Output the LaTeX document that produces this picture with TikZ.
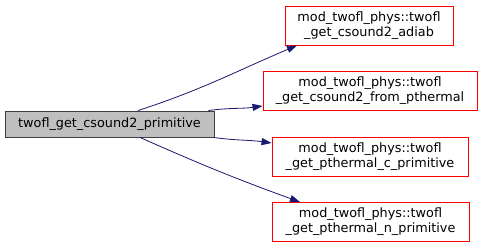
\documentclass[tikz,border=0pt]{standalone}
\usepackage{fontspec}
\setmainfont{DejaVu Sans}
\usetikzlibrary{arrows.meta}
\definecolor{CallNavy}{HTML}{191970}
\definecolor{CallRed}{HTML}{FF0000}
\definecolor{CallGrey}{HTML}{BFBFBF}
\definecolor{CallEdge}{HTML}{404040}

\begin{document}
\begin{tikzpicture}[
  x=1pt,y=-1pt,
  every node/.style={font=\fontsize{12.8}{15}\selectfont,inner sep=0pt},
  fn/.style={draw=CallRed,line width=0.9pt,align=center,minimum height=39pt},
  root/.style={draw=CallEdge,fill=CallGrey,line width=0.9pt,
    minimum width=209pt,minimum height=26pt},
  call/.style={-{Triangle[length=10pt,width=7pt]},line width=0.8pt,color=CallNavy}
]
\useasboundingbox (0,0) rectangle (483,248);

\node[root] (mainfn) at (109.5,124) {twofl\_get\_csound2\_primitive};

\node[fn,minimum width=168pt] (adiab) at (369,25.5)
  {mod\_twofl\_phys::twofl\\\_get\_csound2\_adiab};
\node[fn,minimum width=214pt] (frompth) at (370,90.5)
  {mod\_twofl\_phys::twofl\\\_get\_csound2\_from\_pthermal};
\node[fn,minimum width=196pt] (cprim) at (370,157)
  {mod\_twofl\_phys::twofl\\\_get\_pthermal\_c\_primitive};
\node[fn,minimum width=197pt] (nprim) at (370.5,222)
  {mod\_twofl\_phys::twofl\\\_get\_pthermal\_n\_primitive};

\draw[call] ([xshift=28.5pt]mainfn.north) to[out=18,in=203]
  ([xshift=-72pt]adiab.south);
\draw[call] ([xshift=-6pt]mainfn.north east) to[out=8,in=188]
  ([yshift=-15.5pt]frompth.west);
\draw[call] ([xshift=-1pt]mainfn.south east) to[out=-8,in=172]
  ([yshift=14pt]cprim.west);
\draw[call] ([xshift=30.5pt]mainfn.south) to[out=-24,in=160]
  ([xshift=-70.5pt]nprim.north);
\end{tikzpicture}
\end{document}
